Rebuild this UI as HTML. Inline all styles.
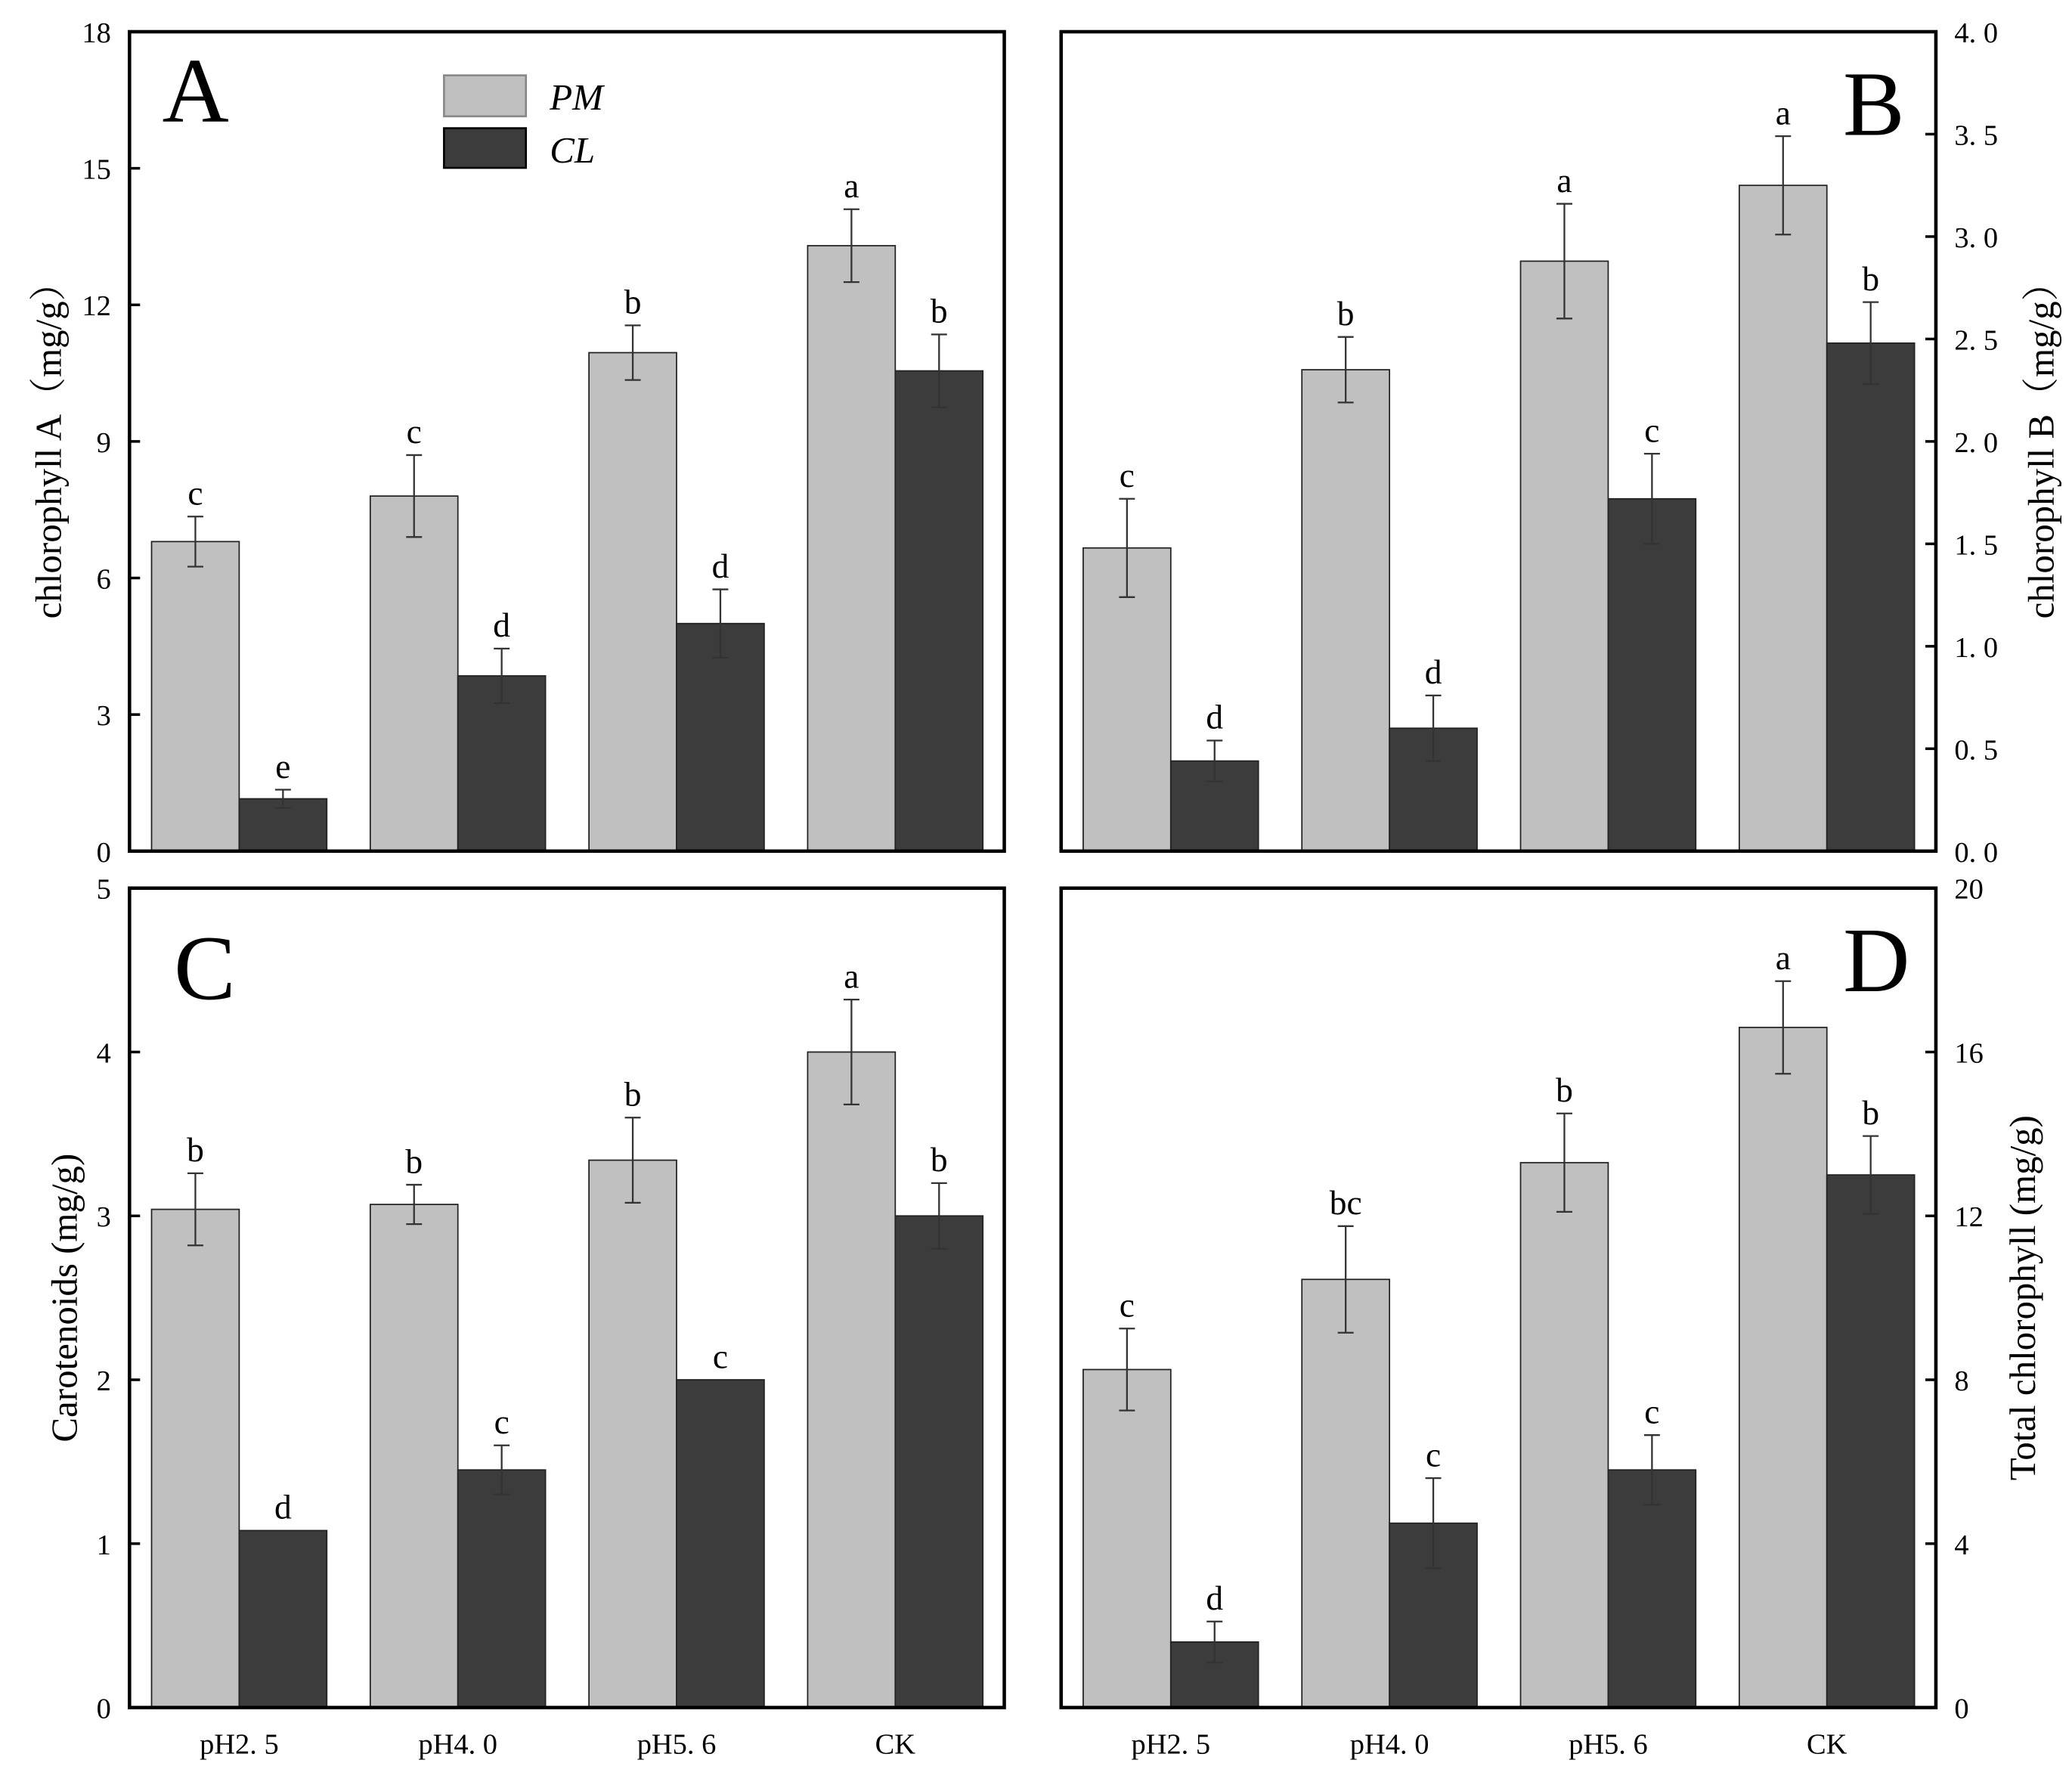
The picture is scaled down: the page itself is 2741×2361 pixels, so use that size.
<!DOCTYPE html>
<html><head><meta charset="utf-8"><style>
html,body{margin:0;padding:0;background:#fff;}
svg{display:block;}
text{font-family:"Liberation Serif","Noto Serif CJK SC",serif;fill:#000;}
</style></head><body>
<svg id="chart" width="2741" height="2361" viewBox="0 0 1568 1350.6" xmlns="http://www.w3.org/2000/svg"></svg>
<script>
const categories = ["pH2. 5", "pH4. 0", "pH5. 6", "CK"];
const seriesNames = ["PM", "CL"];
// Panel A: chlorophyll A
const aPM = [6.8, 7.8, 10.95, 13.3];
const aPMerr = [0.55, 0.9, 0.6, 0.8];
const aCL = [1.15, 3.85, 5.0, 10.55];
const aCLerr = [0.2, 0.6, 0.75, 0.8];
const aPMlet = ["c", "c", "b", "a"];
const aCLlet = ["e", "d", "d", "b"];
const aTicks = [0, 3, 6, 9, 12, 15, 18];
const aTickLabels = ["0", "3", "6", "9", "12", "15", "18"];
// Panel B: chlorophyll B
const bPM = [1.48, 2.35, 2.88, 3.25];
const bPMerr = [0.24, 0.16, 0.28, 0.24];
const bCL = [0.44, 0.6, 1.72, 2.48];
const bCLerr = [0.1, 0.16, 0.22, 0.2];
const bPMlet = ["c", "b", "a", "a"];
const bCLlet = ["d", "d", "c", "b"];
const bTicks = [0, 0.5, 1, 1.5, 2, 2.5, 3, 3.5, 4];
const bTickLabels = ["0. 0", "0. 5", "1. 0", "1. 5", "2. 0", "2. 5", "3. 0", "3. 5", "4. 0"];
// Panel C: carotenoids
const cPM = [3.04, 3.07, 3.34, 4.0];
const cPMerr = [0.22, 0.12, 0.26, 0.32];
const cCL = [1.08, 1.45, 2.0, 3.0];
const cCLerr = [0.0, 0.15, 0.0, 0.2];
const cPMlet = ["b", "b", "b", "a"];
const cCLlet = ["d", "c", "c", "b"];
const cTicks = [0, 1, 2, 3, 4, 5];
const cTickLabels = ["0", "1", "2", "3", "4", "5"];
// Panel D: total chlorophyll
const dPM = [8.25, 10.45, 13.3, 16.6];
const dPMerr = [1.0, 1.3, 1.2, 1.13];
const dCL = [1.6, 4.5, 5.8, 13.0];
const dCLerr = [0.5, 1.1, 0.85, 0.95];
const dPMlet = ["c", "bc", "b", "a"];
const dCLlet = ["d", "c", "c", "b"];
const dTicks = [0, 4, 8, 12, 16, 20];
const dTickLabels = ["0", "4", "8", "12", "16", "20"];

const svg = document.getElementById('chart');
const NS = 'http://www.w3.org/2000/svg';
function mk(tag, attrs, parent) {
  const e = document.createElementNS(NS, tag);
  for (const k in attrs) e.setAttribute(k, attrs[k]);
  (parent || svg).appendChild(e);
  return e;
}

function panel(opt) {
  const g = mk('g', {});
  
  
  const L = opt.x0, R = opt.x0 + 662, T = opt.y0, B = opt.y0 + 620;
  const H = B - T;
  const y = v => B - v / opt.max * H;
  const cx = i => L + 83 + 165.5 * i;
  const bw = 66.3;
  const series = [[opt.pm, opt.pmErr, opt.pmLet, '#c0c0c0'], [opt.cl, opt.clErr, opt.clLet, '#3c3c3c']];
  series.forEach((s, si) => {
    s[0].forEach((v, i) => {
      const x = si === 0 ? cx(i) - bw : cx(i);
      const r = mk('rect', {x: x, y: y(v), width: bw, height: B - y(v), fill: s[3], stroke: '#222', 'stroke-width': 1}, g);
      
      
      const m = x + bw / 2, e = s[1][i];
      if (e > 0) {
        const eb = mk('path', {d: `M${m},${y(v + e)}V${y(v - e)}M${m - 6},${y(v + e)}H${m + 6}M${m - 6},${y(v - e)}H${m + 6}`, stroke: '#333', 'stroke-width': 1.3, fill: 'none'}, g);
        
        
      }
      const t = mk('text', {x: m, y: y(v + e) - 9, 'text-anchor': 'middle', 'font-size': 26}, g);
      t.textContent = s[2][i];
      
      
    });
  });
  const fr = mk('rect', {x: L, y: T, width: R - L, height: H, fill: 'none', stroke: '#000', 'stroke-width': 2.6}, g);
  
  
  opt.ticks.forEach((tv, i) => {
    const ax = opt.right ? R : L;
    const dir = opt.right ? -1 : 1;
    mk('line', {x1: ax, x2: ax + dir * 8, y1: y(tv), y2: y(tv), stroke: '#000', 'stroke-width': 2}, g);
    const t = mk('text', {x: opt.right ? R + 14 : L - 14, y: y(tv) + 8, 'text-anchor': opt.right ? 'start' : 'end', 'font-size': 22, 'font-family': '"Liberation Mono",monospace'}, g);
    t.textContent = opt.tickLabels[i];
    
    
  });
  if (opt.xlabels) {
    categories.forEach((c, i) => {
      const t = mk('text', {x: cx(i), y: B + 35, 'text-anchor': 'middle', 'font-size': 22, 'font-family': '"Liberation Mono",monospace'}, g);
      t.textContent = c;
      
      
    });
  }
  const yt = mk('text', {transform: `translate(${opt.titleX},${T + H / 2}) rotate(-90)`, 'text-anchor': 'middle', 'font-size': 28}, g);
  yt.textContent = opt.title;
  
  
  const pl = mk('text', {x: opt.letterX, y: T + opt.letterDY, 'text-anchor': 'middle', 'font-size': 70}, g);
  pl.textContent = opt.letter;
  
  
}

panel({name: 'panel-a', x0: 98, y0: 24, max: 18, pm: aPM, pmErr: aPMerr, cl: aCL, clErr: aCLerr, pmLet: aPMlet, clLet: aCLlet, ticks: aTicks, tickLabels: aTickLabels, right: false, xlabels: false, title: 'chlorophyll A（mg/g）', titleX: 46, letter: 'A', letterX: 148, letterDY: 68});
panel({name: 'panel-b', x0: 803, y0: 24, max: 4, pm: bPM, pmErr: bPMerr, cl: bCL, clErr: bCLerr, pmLet: bPMlet, clLet: bCLlet, ticks: bTicks, tickLabels: bTickLabels, right: true, xlabels: false, title: 'chlorophyll B（mg/g）', titleX: 1554, letter: 'B', letterX: 1418, letterDY: 78});
panel({name: 'panel-c', x0: 98, y0: 672, max: 5, pm: cPM, pmErr: cPMerr, cl: cCL, clErr: cCLerr, pmLet: cPMlet, clLet: cCLlet, ticks: cTicks, tickLabels: cTickLabels, right: false, xlabels: true, title: 'Carotenoids (mg/g)', titleX: 58, letter: 'C', letterX: 155, letterDY: 84});
panel({name: 'panel-d', x0: 803, y0: 672, max: 20, pm: dPM, pmErr: dPMerr, cl: dCL, clErr: dCLerr, pmLet: dPMlet, clLet: dCLlet, ticks: dTicks, tickLabels: dTickLabels, right: true, xlabels: true, title: 'Total chlorophyll (mg/g)', titleX: 1540, letter: 'D', letterX: 1420, letterDY: 78});

// legend
const lg = mk('g', {});


const l1 = mk('rect', {x: 336, y: 57, width: 62, height: 31, fill: '#c0c0c0', stroke: '#888', 'stroke-width': 1.5}, lg);


const l2 = mk('rect', {x: 336, y: 97, width: 62, height: 30, fill: '#3c3c3c', stroke: '#000', 'stroke-width': 1.5}, lg);


const t1 = mk('text', {x: 416, y: 83, 'font-size': 28, 'font-style': 'italic'}, lg);
t1.textContent = seriesNames[0];


const t2 = mk('text', {x: 416, y: 123, 'font-size': 28, 'font-style': 'italic'}, lg);
t2.textContent = seriesNames[1];


</script>
</body></html>
